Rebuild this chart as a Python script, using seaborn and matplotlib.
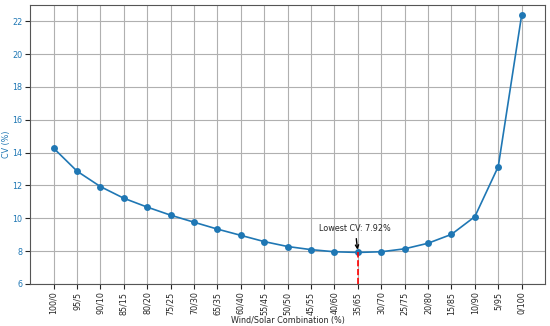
import pandas as pd
import matplotlib.pyplot as plt
import seaborn as sns

# Wind/Solar mix and coefficient of variation
combos = ["100/0", "95/5", "90/10", "85/15", "80/20", "75/25", "70/30",
          "65/35", "60/40", "55/45", "50/50", "45/55", "40/60", "35/65",
          "30/70", "25/75", "20/80", "15/85", "10/90", "5/95", "0/100"]
cv = [14.27, 12.87, 11.93, 11.22, 10.68, 10.19, 9.76, 9.34, 8.96, 8.58,
      8.28, 8.09, 7.96, 7.92, 7.96, 8.14, 8.48, 9.02, 10.10, 13.15, 22.38]

df = pd.DataFrame({"combo": combos, "cv": cv})
df["pos"] = range(len(df))

sns.set_style("ticks")
plt.rcParams["font.family"] = ["DejaVu Sans"]

fig, ax = plt.subplots(figsize=(5.5, 3.26), dpi=100)
fig.subplots_adjust(left=0.055, right=0.991, top=0.985, bottom=0.129)

blue = "#1f77b4"
sns.lineplot(data=df, x="pos", y="cv", marker="o", color=blue,
             markersize=5, markeredgewidth=0, linewidth=1.2, ax=ax)

imin = df["cv"].idxmin()
xmin = df.loc[imin, "pos"]
ymin = df.loc[imin, "cv"]
ax.vlines(xmin, 6, ymin, colors="red", linestyles="--", linewidth=1.2)
ax.annotate(f"Lowest CV: {ymin:.2f}%", xy=(xmin, ymin), xytext=(xmin - 1.65, 9.25),
            fontsize=5.8, arrowprops=dict(arrowstyle="->", color="black", lw=1))

ax.set_xticks(df["pos"])
ax.set_xticklabels(df["combo"], rotation=90, fontsize=5.8)
ax.set_xlim(-1, len(df))
ax.set_ylim(6, 23)
ax.set_yticks(range(6, 23, 2))
ax.tick_params(axis="both", pad=2, length=3.5)
ax.tick_params(axis="y", labelcolor=blue, labelsize=5.8)
ax.set_xlabel("Wind/Solar Combination (%)", fontsize=5.8)
ax.set_ylabel("CV (%)", color=blue, fontsize=5.8)
ax.xaxis.set_label_coords(0.5, -0.132)
ax.yaxis.set_label_coords(-0.047, 0.5)
ax.xaxis.label.set_va("center")
ax.yaxis.label.set_va("center")
ax.grid(True, color="#b0b0b0", linewidth=0.8)
for s in ax.spines.values():
    s.set_color("#555555")

plt.savefig("out.png", dpi=100)
plt.close()
